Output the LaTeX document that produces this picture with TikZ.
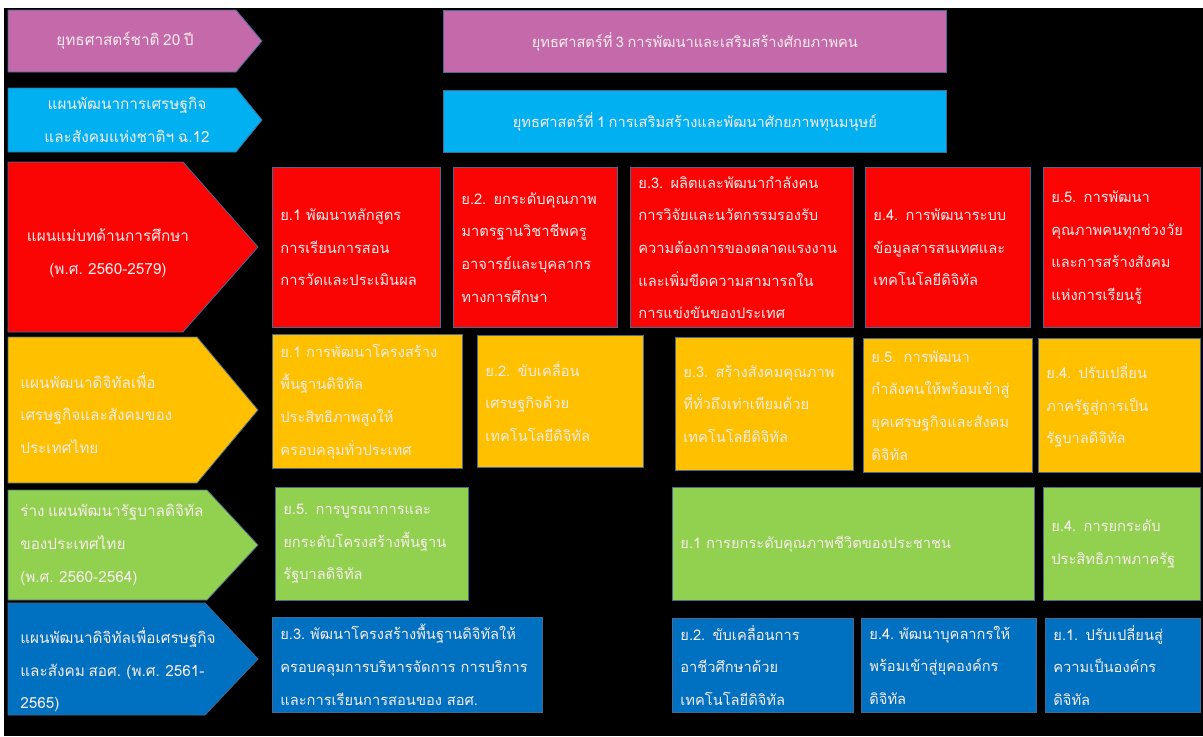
\documentclass[tikz,border=0pt]{standalone}
\usepackage{fontspec}
\newfontfamily\thaifont[Script=Thai, WordSpace=0.7]{Loma}
\usetikzlibrary{positioning}

\definecolor{purplec}{RGB}{196,106,170}
\definecolor{cyanc}{RGB}{0,176,240}
\definecolor{redc}{RGB}{250,4,4}
\definecolor{yellowc}{RGB}{255,192,0}
\definecolor{greenc}{RGB}{146,208,80}
\definecolor{bluec}{RGB}{0,112,192}
\definecolor{edgec}{RGB}{70,105,150}
\definecolor{txtc}{RGB}{248,236,236}

\begin{document}
\begin{tikzpicture}[
    x=0.75pt, y=-0.75pt,
    plan/.style={draw=edgec, line width=0.6pt},
    planlabel/.style={text=txtc, font=\thaifont\fontsize{11.5}{24.5}\selectfont, inner sep=0pt},
    goal/.style={draw=edgec, line width=0.6pt, text=txtc, font=\thaifont\fontsize{11}{24.5}\selectfont,
        anchor=north west, align=left, inner xsep=6pt, inner ysep=2pt},
    strat/.style={goal, align=center}
]

% Background
\fill[white] (0,0) rectangle (1203,736);
\fill[black] (4,8) rectangle (1203,736);
\useasboundingbox (0,0) rectangle (1203,736);

% Left Column (Plans)
\filldraw[plan, fill=purplec] (8,10) -- (236,10) -- (262,41) -- (236,72) -- (8,72) -- cycle;
\node[planlabel, align=center] (natstrat) at (125,41) {ยุทธศาสตร์ชาติ 20 ปี};

\filldraw[plan, fill=cyanc] (8,88) -- (236,88) -- (262,120) -- (236,152) -- (8,152) -- cycle;
\node[planlabel, align=center] (nesdp) at (127,120) {แผนพัฒนาการเศรษฐกิจ\\และสังคมแห่งชาติฯ ฉ.12};

\filldraw[plan, fill=redc] (8,162) -- (183,162) -- (258,247) -- (183,332) -- (8,332) -- cycle;
\node[planlabel, align=center] (eduplan) at (108,253) {แผนแม่บทด้านการศึกษา\\(พ.ศ. 2560-2579)};

\filldraw[plan, fill=yellowc] (8,337) -- (197,337) -- (258,410) -- (197,483) -- (8,483) -- cycle;
\node[planlabel, align=left, anchor=west] (digplan) at (20,413) {แผนพัฒนาดิจิทัลเพื่อ\\เศรษฐกิจและสังคมของ\\ประเทศไทย};

\filldraw[plan, fill=greenc] (8,490) -- (207,490) -- (258,545) -- (207,600) -- (8,600) -- cycle;
\node[planlabel, align=left, anchor=west] (govplan) at (20,545) {ร่าง แผนพัฒนารัฐบาลดิจิทัล\\ของประเทศไทย\\(พ.ศ. 2560-2564)};

\filldraw[plan, fill=bluec] (8,603) -- (205,603) -- (258,659) -- (205,715) -- (8,715) -- cycle;
\node[planlabel, align=left, anchor=west] (voplan) at (20,670) {แผนพัฒนาดิจิทัลเพื่อเศรษฐกิจ\\และสังคม สอศ. (พ.ศ. 2561-\\2565)};

% Strategies
\node[strat, fill=purplec, minimum width=377.25pt, minimum height=46.5pt] (strat3) at (443,10) {ยุทธศาสตร์ที่ 3 การพัฒนาและเสริมสร้างศักยภาพคน};
\node[strat, fill=cyanc, minimum width=377.25pt, minimum height=46.5pt] (strat1) at (443,90) {ยุทธศาสตร์ที่ 1 การเสริมสร้างและพัฒนาศักยภาพทุนมนุษย์};

% Education plan goals
\node[goal, fill=redc, minimum height=120pt, text width=114pt] (edu1) at (272,167) {ย.1 พัฒนาหลักสูตร\\การเรียนการสอน\\การวัดและประเมินผล};
\node[goal, fill=redc, minimum height=120pt, text width=111pt] (edu2) at (453,167) {ย.2. ยกระดับคุณภาพ\\มาตรฐานวิชาชีพครู\\อาจารย์และบุคลากร\\ทางการศึกษา};
\node[goal, fill=redc, minimum height=120pt, text width=155.25pt] (edu3) at (630,167) {ย.3. ผลิตและพัฒนากำลังคน\\การวิจัยและนวัตกรรมรองรับ\\ความต้องการของตลาดแรงงาน\\และเพิ่มขีดความสามารถใน\\การแข่งขันของประเทศ};
\node[goal, fill=redc, minimum height=120pt, text width=111.75pt] (edu4) at (865,167) {ย.4. การพัฒนาระบบ\\ข้อมูลสารสนเทศและ\\เทคโนโลยีดิจิทัล};
\node[goal, fill=redc, minimum height=120pt, text width=105.75pt] (edu5) at (1043,167) {ย.5. การพัฒนา\\คุณภาพคนทุกช่วงวัย\\และการสร้างสังคม\\แห่งการเรียนรู้};

% Digital economy plan goals
\node[goal, fill=yellowc, minimum height=100.5pt, text width=130.5pt] (dig1) at (272,334) {ย.1 การพัฒนาโครงสร้าง\\พื้นฐานดิจิทัล\\ประสิทธิภาพสูงให้\\ครอบคลุมทั่วประเทศ};
\node[goal, fill=yellowc, minimum height=99pt, text width=112.5pt] (dig2) at (477,335) {ย.2. ขับเคลื่อน\\เศรษฐกิจด้วย\\เทคโนโลยีดิจิทัล};
\node[goal, fill=yellowc, minimum height=99.75pt, text width=121.5pt] (dig3) at (675,337) {ย.3. สร้างสังคมคุณภาพ\\ที่ทั่วถึงเท่าเทียมด้วย\\เทคโนโลยีดิจิทัล};
\node[goal, fill=yellowc, minimum height=100.5pt, text width=114.75pt] (dig5) at (863,338) {ย.5. การพัฒนา\\กำลังคนให้พร้อมเข้าสู่\\ยุคเศรษฐกิจและสังคม\\ดิจิทัล};
\node[goal, fill=yellowc, minimum height=100.5pt, text width=109.5pt] (dig4) at (1038,338) {ย.4. ปรับเปลี่ยน\\ภาครัฐสู่การเป็น\\รัฐบาลดิจิทัล};

% Digital government plan goals
\node[goal, fill=greenc, minimum height=84.75pt, text width=132.75pt] (gov5) at (275,487) {ย.5. การบูรณาการและ\\ยกระดับโครงสร้างพื้นฐาน\\รัฐบาลดิจิทัล};
\node[goal, fill=greenc, minimum height=84.75pt, text width=259.5pt] (gov1) at (672,487) {ย.1 การยกระดับคุณภาพชีวิตของประชาชน};
\node[goal, fill=greenc, minimum height=84.75pt, text width=105.75pt] (gov4) at (1043,487) {ย.4. การยกระดับ\\ประสิทธิภาพภาครัฐ};

% Vocational education plan goals
\node[goal, fill=bluec, minimum height=71.25pt, text width=190.5pt] (vo3) at (272,617) {ย.3.~พัฒนาโครงสร้างพื้นฐานดิจิทัลให้\\ครอบคลุมการบริหารจัดการ~การบริการ\\และการเรียนการสอนของ~สอศ.};
\node[goal, fill=bluec, minimum height=70.5pt, text width=123.75pt] (vo2) at (672,618) {ย.2. ขับเคลื่อนการ\\อาชีวศึกษาด้วย\\เทคโนโลยีดิจิทัล};
\node[goal, fill=bluec, minimum height=70.5pt, text width=119.25pt] (vo4) at (861,618) {ย.4.~พัฒนาบุคลากรให้\\พร้อมเข้าสู่ยุคองค์กร\\ดิจิทัล};
\node[goal, fill=bluec, minimum height=70.5pt, text width=104.25pt] (vo1) at (1045,618) {ย.1. ปรับเปลี่ยนสู่\\ความเป็นองค์กร\\ดิจิทัล};

\end{tikzpicture}
\end{document}
